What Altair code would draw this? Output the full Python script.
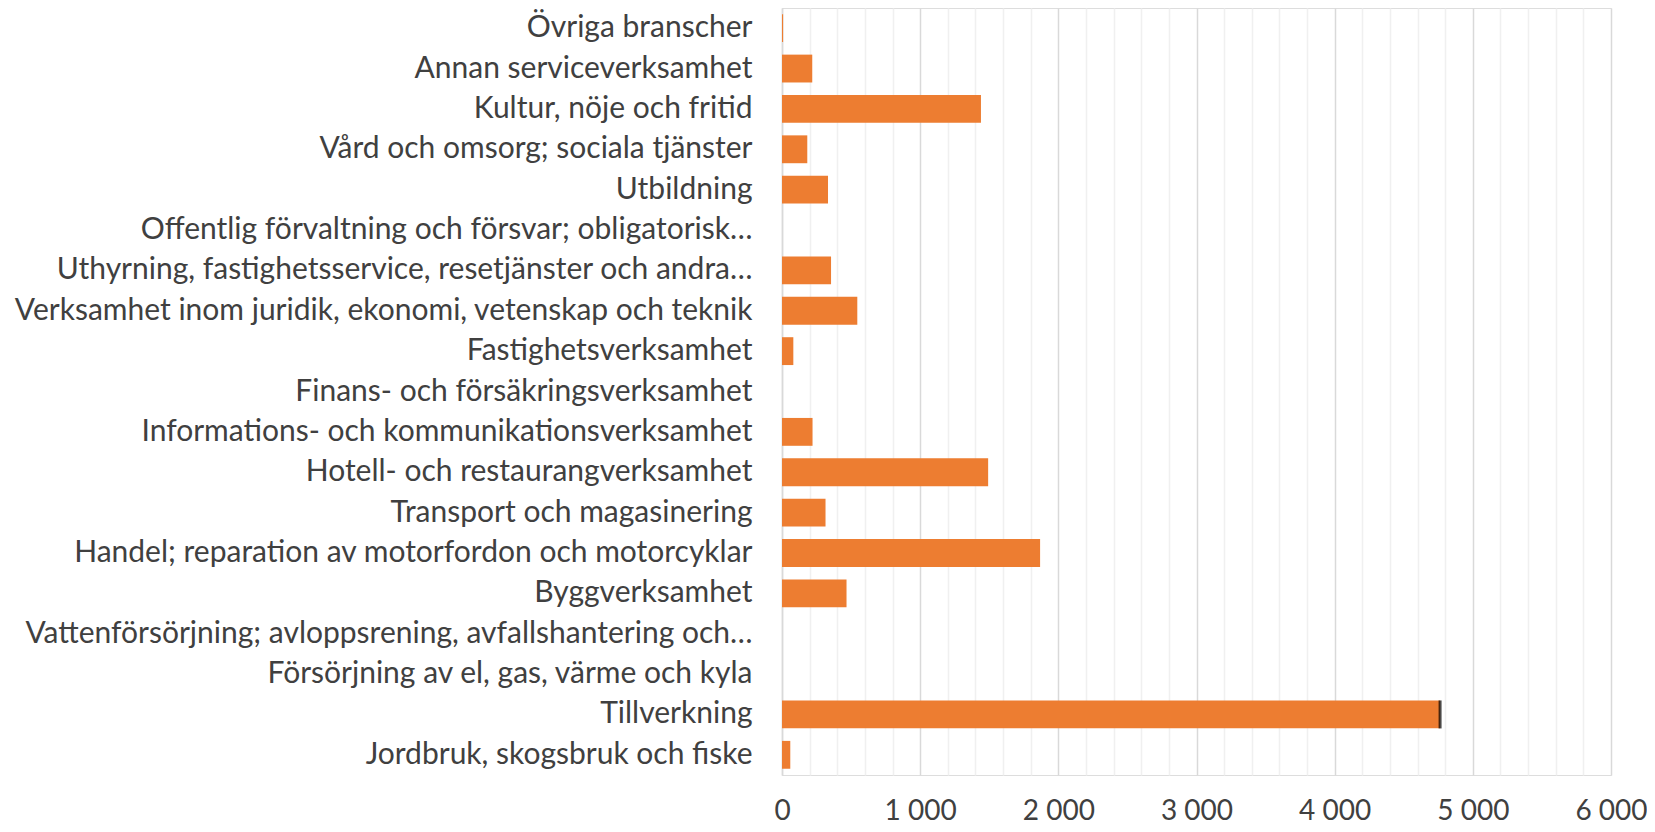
import altair as alt
import pandas as pd

categories = [
    "Övriga branscher",
    "Annan serviceverksamhet",
    "Kultur, nöje och fritid",
    "Vård och omsorg; sociala tjänster",
    "Utbildning",
    "Offentlig förvaltning och försvar; obligatorisk…",
    "Uthyrning, fastighetsservice, resetjänster och andra…",
    "Verksamhet inom juridik, ekonomi, vetenskap och teknik",
    "Fastighetsverksamhet",
    "Finans- och försäkringsverksamhet",
    "Informations- och kommunikationsverksamhet",
    "Hotell- och restaurangverksamhet",
    "Transport och magasinering",
    "Handel; reparation av motorfordon och motorcyklar",
    "Byggverksamhet",
    "Vattenförsörjning; avloppsrening, avfallshantering och…",
    "Försörjning av el, gas, värme och kyla",
    "Tillverkning",
    "Jordbruk, skogsbruk och fiske",
]
values = [8, 219, 1440, 183, 333, 0, 355, 545, 82, 0, 221, 1492, 315, 1868, 467, 0, 0, 4763, 60]
highlight = ["Tillverkning"]

x_ticks = list(range(0, 6001, 200))

df = pd.DataFrame({"Bransch": categories, "Antal": values})
df["mark"] = df["Bransch"].isin(highlight)

FONT = "Lato"
TXT = "#404040"

x_axis = alt.Axis(
    values=x_ticks,
    title=None,
    domain=False,
    ticks=False,
    labelOverlap=False,
    labelFlush=False,
    labelExpr="datum.value % 1000 === 0 ? replace(format(datum.value, ',d'), ',', ' ') : ''",
    labelFont=FONT,
    labelFontSize=28,
    labelColor=TXT,
    labelPadding=22,
    gridColor={"condition": {"test": "datum.value % 1000 === 0", "value": "#d9d9d9"}, "value": "#f0f0f0"},
    gridWidth=1.5,
)
y_axis = alt.Axis(
    title=None,
    ticks=False,
    domain=True,
    domainColor="#d9d9d9",
    domainWidth=1.5,
    labelFont=FONT,
    labelFontSize=30,
    labelColor=TXT,
    labelPadding=30,
    labelLimit=0,
)
x_scale = alt.Scale(domain=[0, 6000], nice=False)
y_scale = alt.Scale(paddingInner=0.31, paddingOuter=0.155)

x_enc = alt.X("Antal:Q", scale=x_scale, axis=x_axis)
y_enc = alt.Y("Bransch:N", sort=categories, scale=y_scale, axis=y_axis)

bars = alt.Chart(df).mark_bar(color="#ED7D31").encode(x=x_enc, y=y_enc)
edge = (
    alt.Chart(df)
    .transform_filter("datum.mark")
    .mark_tick(color="black", thickness=3, size=28)
    .encode(x=x_enc, y=y_enc)
)

chart = (
    alt.layer(bars, edge)
    .properties(
        width=829,
        height=767,
        autosize=alt.AutoSizeParams(type="none"),
        padding={"left": 774, "top": 0, "right": 36, "bottom": 50},
    )
    .configure_view(strokeWidth=0, stroke="transparent")
    .configure_axisX(labelOverlap=False)
    .configure(background="white")
)

chart.save("out.html", embed_options={"renderer": "svg", "actions": False})
